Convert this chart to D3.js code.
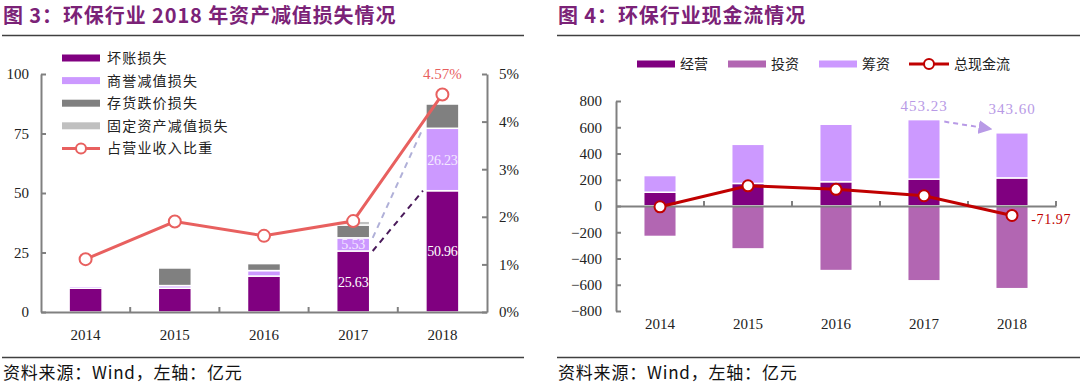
<!DOCTYPE html>
<html>
<head>
<meta charset="utf-8">
<script src="https://cdn.jsdelivr.net/npm/d3@7"></script>
<style>
  body { margin: 0; background: #fff; }
  svg { display: block; }
  .cn { font-family: "Noto Sans CJK SC", sans-serif; }
  .num { font-family: "Liberation Serif", "Times New Roman", serif; }
</style>
</head>
<body>
<svg id="chart" width="1080" height="385"></svg>
<script>
// ---- data ----
const years = ["2014", "2015", "2016", "2017", "2018"];

// 图3 资产减值损失（亿元）
const badDebt = [10.0, 10.0, 15.1, 25.63, 50.96];
const goodwill = [0.8, 1.1, 2.3, 5.53, 26.23];
const inventory = [0, 7.4, 3.0, 5.4, 10.3];
const fixedAsset = [0.4, 0, 0.4, 1.6, 0.3];
const impairRatio = [1.11, 1.90, 1.60, 1.91, 4.57]; // %
const leftTicks = [0, 25, 50, 75, 100];
const rightTicks = [0, 1, 2, 3, 4, 5];

// 图4 现金流（亿元）
const operating = [105, 172, 185, 205, 214];
const investing = [-232, -327, -492, -570, -630];
const financing = [127, 298, 438, 453.23, 343.60];
const totalFlow = [-6, 154, 127, 78, -71.97];
const cashTicks = [-800, -600, -400, -200, 0, 200, 400, 600, 800];

const svg = d3.select("#chart");
const axisColor = "#808080";
const titleColor = "#7b2277";

// ---- shared header / footer ----
function frame(x0, x1, title) {
  svg.append("text")
    .attr("class", "cn")
    .attr("x", x0 + 1).attr("y", 23)
    .attr("font-size", 20).attr("font-weight", "bold")
    .attr("letter-spacing", 0.9)
    .attr("fill", titleColor)
    .text(title);
  svg.append("line")
    .attr("x1", x0).attr("x2", x1).attr("y1", 35.5).attr("y2", 35.5)
    .attr("stroke", "#404040").attr("stroke-width", 1.5);
  svg.append("line")
    .attr("x1", x0).attr("x2", x1).attr("y1", 357.5).attr("y2", 357.5)
    .attr("stroke", "#404040").attr("stroke-width", 1.5);
  svg.append("text")
    .attr("class", "cn")
    .attr("x", x0 + 1).attr("y", 379)
    .attr("font-size", 17).attr("letter-spacing", 0.8).attr("fill", "#111")
    .text("资料来源：Wind，左轴：亿元");
}

frame(2, 524, "图 3：环保行业 2018 年资产减值损失情况");
frame(557, 1080, "图 4：环保行业现金流情况");

// ================= 图3 =================
const g1 = svg.append("g");
const x1 = d3.scaleBand().domain(years).range([41, 487]);
const y1 = d3.scaleLinear().domain([0, 100]).range([312, 74]);
const y1r = d3.scaleLinear().domain([0, 5]).range([312, 74]);
const barW1 = x1.bandwidth() * 0.37;

const keys1 = ["bad", "goodwill", "inventory", "fixed"];
const colors1 = { bad: "#800080", goodwill: "#cc99ff", inventory: "#808080", fixed: "#c0c0c0" };
const rows1 = years.map((y, i) => ({
  year: y, bad: badDebt[i], goodwill: goodwill[i], inventory: inventory[i], fixed: fixedAsset[i]
}));
const stack1 = d3.stack().keys(keys1)(rows1);

g1.selectAll("g.layer")
  .data(stack1)
  .enter().append("g")
  .attr("fill", d => colors1[d.key])
  .selectAll("rect")
  .data(d => d)
  .enter().append("rect")
  .attr("x", d => x1(d.data.year) + x1.bandwidth() / 2 - barW1 / 2)
  .attr("y", d => y1(d[1]))
  .attr("width", barW1)
  .attr("height", d => Math.max(0, y1(d[0]) - y1(d[1])))
  .attr("stroke", "#fff")
  .attr("stroke-width", 1.5);

// axes
const axL = g1.append("g").attr("transform", "translate(41,0)")
  .call(d3.axisLeft(y1).tickValues(leftTicks).tickSize(-5).tickSizeOuter(0).tickPadding(12));
const axR = g1.append("g").attr("transform", "translate(487,0)")
  .call(d3.axisRight(y1r).tickValues(rightTicks).tickSize(-5).tickSizeOuter(0).tickPadding(12)
    .tickFormat(d => d + "%"));
const axB = g1.append("g").attr("transform", "translate(0,312)")
  .call(d3.axisBottom(x1).tickSize(0).tickSizeOuter(0).tickPadding(17));
[axL, axR, axB].forEach(a => {
  a.selectAll("path, line").attr("stroke", axisColor).attr("stroke-width", 2);
  a.selectAll("text").attr("class", "num").attr("font-size", 15).attr("fill", "#222");
});
// category boundary ticks
g1.selectAll("line.btick")
  .data(years.slice(1))
  .enter().append("line")
  .attr("x1", d => x1(d)).attr("x2", d => x1(d))
  .attr("y1", 312).attr("y2", 307)
  .attr("stroke", axisColor).attr("stroke-width", 2);

// dashed connectors 2017 -> 2018
const r17 = stack1[0][3], r18 = stack1[0][4];
const g17 = stack1[1][3], g18 = stack1[1][4];
const xRight17 = x1("2017") + x1.bandwidth() / 2 + barW1 / 2 + 3;
const xLeft18 = x1("2018") + x1.bandwidth() / 2 - barW1 / 2 - 3;
g1.append("line")
  .attr("x1", xRight17).attr("y1", y1(r17[1]))
  .attr("x2", xLeft18).attr("y2", y1(r18[1]))
  .attr("stroke", "#4a1a5a").attr("stroke-width", 2).attr("stroke-dasharray", "6,5");
g1.append("line")
  .attr("x1", xRight17).attr("y1", y1(g17[1]))
  .attr("x2", xLeft18).attr("y2", y1(g18[1]))
  .attr("stroke", "#b0b0d8").attr("stroke-width", 2).attr("stroke-dasharray", "6,5");

// bar value labels
const barLabels = [
  { year: "2017", layer: 0, val: badDebt[3] },
  { year: "2017", layer: 1, val: goodwill[3] },
  { year: "2018", layer: 0, val: badDebt[4] },
  { year: "2018", layer: 1, val: goodwill[4] }
];
g1.selectAll("text.blab")
  .data(barLabels)
  .enter().append("text")
  .attr("class", "num")
  .attr("x", d => x1(d.year) + x1.bandwidth() / 2)
  .attr("y", d => {
    const s = stack1[d.layer][years.indexOf(d.year)];
    return (y1(s[0]) + y1(s[1])) / 2 + 5;
  })
  .attr("text-anchor", "middle")
  .attr("font-size", 14)
  .attr("letter-spacing", -0.2)
  .attr("fill", d => d.layer === 0 ? "#fff" : "#f4eaff")
  .text(d => d.val.toFixed(2));

// ratio line
const lineColor1 = "#e8605f";
const line1 = d3.line()
  .x((d, i) => x1(years[i]) + x1.bandwidth() / 2)
  .y(d => y1r(d));
g1.append("path")
  .datum(impairRatio)
  .attr("d", line1)
  .attr("fill", "none")
  .attr("stroke", lineColor1)
  .attr("stroke-width", 3);
g1.selectAll("circle.pt")
  .data(impairRatio)
  .enter().append("circle")
  .attr("cx", (d, i) => x1(years[i]) + x1.bandwidth() / 2)
  .attr("cy", d => y1r(d))
  .attr("r", 6)
  .attr("fill", "#fff")
  .attr("stroke", lineColor1)
  .attr("stroke-width", 2);
g1.append("text")
  .attr("class", "num")
  .attr("x", x1("2018") + x1.bandwidth() / 2)
  .attr("y", y1r(impairRatio[4]) - 15)
  .attr("text-anchor", "middle")
  .attr("font-size", 15)
  .attr("fill", lineColor1)
  .text(impairRatio[4].toFixed(2) + "%");

// legend
const legend1 = [
  { name: "坏账损失", color: colors1.bad },
  { name: "商誉减值损失", color: colors1.goodwill },
  { name: "存货跌价损失", color: colors1.inventory },
  { name: "固定资产减值损失", color: colors1.fixed },
  { name: "占营业收入比重", color: lineColor1, line: true }
];
const lg1 = g1.selectAll("g.lg")
  .data(legend1)
  .enter().append("g")
  .attr("transform", (d, i) => "translate(62," + (58 + i * 22.6) + ")");
lg1.filter(d => !d.line).append("rect")
  .attr("x", 0).attr("y", -3.5).attr("width", 38).attr("height", 7)
  .attr("fill", d => d.color);
lg1.filter(d => d.line).append("line")
  .attr("x1", 0).attr("x2", 38).attr("y1", 0).attr("y2", 0)
  .attr("stroke", d => d.color).attr("stroke-width", 3);
lg1.filter(d => d.line).append("circle")
  .attr("cx", 19).attr("cy", 0).attr("r", 5)
  .attr("fill", "#fff").attr("stroke", d => d.color).attr("stroke-width", 2);
lg1.append("text")
  .attr("class", "cn")
  .attr("x", 45).attr("y", 5)
  .attr("font-size", 14).attr("letter-spacing", 1.2).attr("fill", "#222")
  .text(d => d.name);

// ================= 图4 =================
const g2 = svg.append("g");
const x2 = d3.scaleBand().domain(years).range([616, 1056]);
const y2 = d3.scaleLinear().domain([-800, 800]).range([311, 101]);
const barW2 = x2.bandwidth() * 0.37;

const keys2 = ["operating", "investing", "financing"];
const colors2 = { operating: "#800080", investing: "#b266b2", financing: "#cc99ff" };
const rows2 = years.map((y, i) => ({
  year: y, operating: operating[i], investing: investing[i], financing: financing[i]
}));
const stack2 = d3.stack().keys(keys2).offset(d3.stackOffsetDiverging)(rows2);

g2.selectAll("g.layer")
  .data(stack2)
  .enter().append("g")
  .attr("fill", d => colors2[d.key])
  .selectAll("rect")
  .data(d => d)
  .enter().append("rect")
  .attr("x", d => x2(d.data.year) + x2.bandwidth() / 2 - barW2 / 2)
  .attr("y", d => y2(Math.max(d[0], d[1])))
  .attr("width", barW2)
  .attr("height", d => Math.abs(y2(d[0]) - y2(d[1])))
  .attr("stroke", "#fff")
  .attr("stroke-width", 1.5);

const axL2 = g2.append("g").attr("transform", "translate(616,0)")
  .call(d3.axisLeft(y2).tickValues(cashTicks).tickSize(-5).tickSizeOuter(0).tickPadding(14));
const ax0 = g2.append("g").attr("transform", "translate(0," + y2(0) + ")")
  .call(d3.axisBottom(x2).tickSize(0).tickSizeOuter(0).tickFormat(""));
const axB2 = g2.append("g").attr("transform", "translate(0,316)")
  .call(d3.axisBottom(x2).tickSize(0).tickSizeOuter(0).tickPadding(2));
axB2.select("path").remove();
[axL2, ax0, axB2].forEach(a => {
  a.selectAll("path, line").attr("stroke", axisColor).attr("stroke-width", 2);
  a.selectAll("text").attr("class", "num").attr("font-size", 15).attr("fill", "#222");
});
g2.selectAll("line.btick")
  .data(years.slice(1).concat(["end"]))
  .enter().append("line")
  .attr("x1", d => d === "end" ? x2.range()[1] : x2(d))
  .attr("x2", d => d === "end" ? x2.range()[1] : x2(d))
  .attr("y1", y2(0)).attr("y2", y2(0) - 5)
  .attr("stroke", axisColor).attr("stroke-width", 2);

// total cash flow line
const lineColor2 = "#c00000";
const line2 = d3.line()
  .x((d, i) => x2(years[i]) + x2.bandwidth() / 2)
  .y(d => y2(d));
g2.append("path")
  .datum(totalFlow)
  .attr("d", line2)
  .attr("fill", "none")
  .attr("stroke", lineColor2)
  .attr("stroke-width", 3);
g2.selectAll("circle.pt")
  .data(totalFlow)
  .enter().append("circle")
  .attr("cx", (d, i) => x2(years[i]) + x2.bandwidth() / 2)
  .attr("cy", d => y2(d))
  .attr("r", 5.5)
  .attr("fill", "#fff")
  .attr("stroke", lineColor2)
  .attr("stroke-width", 2);

// annotations
const annoColor = "#b89ae6";
const top17 = stack2[2][3][1], top18 = stack2[2][4][1];
const cx17 = x2("2017") + x2.bandwidth() / 2, cx18 = x2("2018") + x2.bandwidth() / 2;
g2.append("text").attr("class", "num")
  .attr("x", cx17).attr("y", y2(top17) - 9)
  .attr("text-anchor", "middle").attr("font-size", 15)
  .attr("letter-spacing", 1).attr("fill", annoColor)
  .text(financing[3].toFixed(2));
g2.append("text").attr("class", "num")
  .attr("x", cx18).attr("y", y2(top18) - 19)
  .attr("text-anchor", "middle").attr("font-size", 15)
  .attr("letter-spacing", 1).attr("fill", annoColor)
  .text(financing[4].toFixed(2));
g2.append("text").attr("class", "num")
  .attr("x", cx18 + barW2 / 2 + 3).attr("y", y2(totalFlow[4]) + 9)
  .attr("font-size", 14).attr("letter-spacing", 0.6)
  .attr("fill", lineColor2)
  .text(totalFlow[4].toFixed(2));

svg.append("defs").append("marker")
  .attr("id", "arrow")
  .attr("viewBox", "0 0 10 10")
  .attr("refX", 8).attr("refY", 5)
  .attr("markerWidth", 7).attr("markerHeight", 7)
  .attr("orient", "auto")
  .append("path")
  .attr("d", "M0,0 L10,5 L0,10 z")
  .attr("fill", annoColor);
g2.append("line")
  .attr("x1", cx17 + barW2 / 2 + 4).attr("y1", y2(top17) + 2)
  .attr("x2", cx18 - barW2 / 2 - 6).attr("y2", y2(top18) - 4)
  .attr("stroke", annoColor).attr("stroke-width", 2)
  .attr("stroke-dasharray", "5,4")
  .attr("marker-end", "url(#arrow)");

// legend
const legend2 = [
  { name: "经营", color: colors2.operating, x: 637 },
  { name: "投资", color: colors2.investing, x: 728 },
  { name: "筹资", color: colors2.financing, x: 819 },
  { name: "总现金流", color: lineColor2, x: 909, line: true }
];
const lg2 = g2.selectAll("g.lg")
  .data(legend2)
  .enter().append("g")
  .attr("transform", d => "translate(" + d.x + ",64)");
lg2.filter(d => !d.line).append("rect")
  .attr("x", 0).attr("y", -3.5).attr("width", 38).attr("height", 7)
  .attr("fill", d => d.color);
lg2.filter(d => d.line).append("line")
  .attr("x1", 0).attr("x2", 40).attr("y1", 0).attr("y2", 0)
  .attr("stroke", d => d.color).attr("stroke-width", 3);
lg2.filter(d => d.line).append("circle")
  .attr("cx", 20).attr("cy", 0).attr("r", 5)
  .attr("fill", "#fff").attr("stroke", d => d.color).attr("stroke-width", 2);
lg2.append("text")
  .attr("class", "cn")
  .attr("x", d => d.line ? 45 : 43).attr("y", 5)
  .attr("font-size", 14).attr("fill", "#222")
  .text(d => d.name);
</script>
</body>
</html>
